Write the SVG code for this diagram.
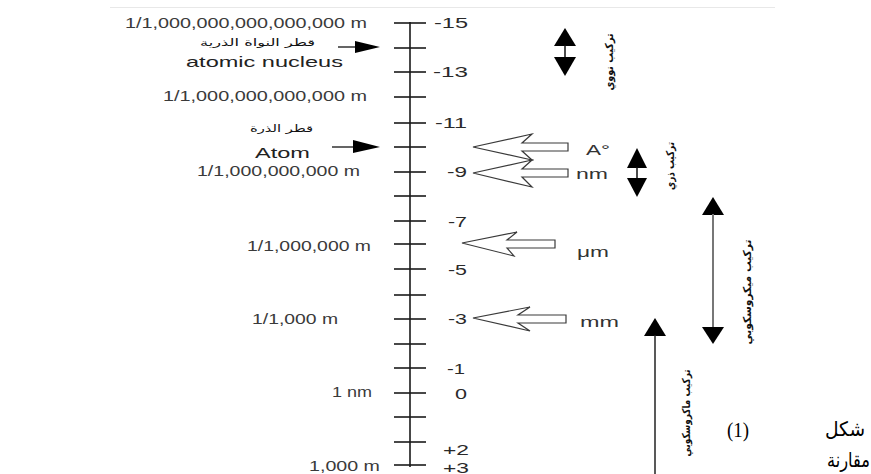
<svg xmlns="http://www.w3.org/2000/svg" width="871" height="474" viewBox="0 0 871 474">
  <defs>
    <style>
      .lbl { font-family: "Liberation Sans", Arial, sans-serif; font-size: 14px; fill: #3a3a3a; }
      .big { font-family: "Liberation Sans", Arial, sans-serif; font-size: 15px; fill: #222; }
      .num { font-family: "Liberation Sans", Arial, sans-serif; font-size: 15px; fill: #2a2a2a; }
      .unit { font-family: "Liberation Sans", Arial, sans-serif; font-size: 15px; fill: #333; }
      .ar { font-family: "DejaVu Sans", "Noto Sans", sans-serif; font-size: 10px; fill: #111; }
      .arv { font-family: "DejaVu Sans", "Noto Sans", sans-serif; font-size: 11px; font-weight: bold; fill: #111; text-anchor: middle; dominant-baseline: central; }
      .cap { font-family: "Liberation Serif", "DejaVu Sans", serif; font-size: 20px; fill: #000; }
      .tick { stroke: #1a1a1a; stroke-width: 1.6; }
      .hollow { fill: none; stroke: #3a3a3a; stroke-width: 1.2; stroke-linejoin: miter; }
      .solid { fill: #000; }
    </style>
  </defs>

  <rect width="871" height="474" fill="#fff"/>
  <!-- faint rule at the top of the figure -->
  <line x1="110" y1="7.5" x2="775" y2="7.5" stroke="#e8e8e8" stroke-width="1"/>

  <!-- the logarithmic scale: axis and ticks -->
  <g id="scale">
    <line class="tick" x1="410" y1="22" x2="410" y2="467"/>
    <line class="tick" x1="394" y1="23" x2="426" y2="23"/>
    <line class="tick" x1="394" y1="48" x2="426" y2="48"/>
    <line class="tick" x1="394" y1="72" x2="426" y2="72"/>
    <line class="tick" x1="394" y1="97" x2="426" y2="97"/>
    <line class="tick" x1="394" y1="123" x2="426" y2="123"/>
    <line class="tick" x1="394" y1="147" x2="426" y2="147"/>
    <line class="tick" x1="394" y1="172" x2="426" y2="172"/>
    <line class="tick" x1="394" y1="196" x2="426" y2="196"/>
    <line class="tick" x1="394" y1="221" x2="426" y2="221"/>
    <line class="tick" x1="394" y1="244" x2="426" y2="244"/>
    <line class="tick" x1="394" y1="269" x2="426" y2="269"/>
    <line class="tick" x1="394" y1="295" x2="426" y2="295"/>
    <line class="tick" x1="394" y1="319" x2="426" y2="319"/>
    <line class="tick" x1="394" y1="344" x2="426" y2="344"/>
    <line class="tick" x1="394" y1="368" x2="426" y2="368"/>
    <line class="tick" x1="394" y1="393" x2="426" y2="393"/>
    <line class="tick" x1="394" y1="417" x2="426" y2="417"/>
    <line class="tick" x1="394" y1="442" x2="426" y2="442"/>
    <line class="tick" x1="394" y1="465" x2="426" y2="465"/>
  </g>

  <!-- exponents -->
  <g id="exponents">
    <text class="num" x="434" y="28" textLength="34" lengthAdjust="spacingAndGlyphs">-15</text>
    <text class="num" x="433" y="77" textLength="35" lengthAdjust="spacingAndGlyphs">-13</text>
    <text class="num" x="435" y="128" textLength="32" lengthAdjust="spacingAndGlyphs">-11</text>
    <text class="num" x="447" y="177" textLength="20" lengthAdjust="spacingAndGlyphs">-9</text>
    <text class="num" x="448" y="227" textLength="19" lengthAdjust="spacingAndGlyphs">-7</text>
    <text class="num" x="448" y="275" textLength="19" lengthAdjust="spacingAndGlyphs">-5</text>
    <text class="num" x="448" y="324" textLength="19" lengthAdjust="spacingAndGlyphs">-3</text>
    <text class="num" x="447" y="374" textLength="18" lengthAdjust="spacingAndGlyphs">-1</text>
    <text class="num" x="455" y="399" textLength="12" lengthAdjust="spacingAndGlyphs">0</text>
    <text class="num" x="443" y="455" textLength="26" lengthAdjust="spacingAndGlyphs">+2</text>
    <text class="num" x="443" y="473" textLength="26" lengthAdjust="spacingAndGlyphs">+3</text>
  </g>

  <!-- metre values on the left -->
  <g id="metres">
    <text class="lbl" x="125" y="28" textLength="242" lengthAdjust="spacingAndGlyphs">1/1,000,000,000,000,000 m</text>
    <text class="lbl" x="163" y="101" textLength="204" lengthAdjust="spacingAndGlyphs">1/1,000,000,000,000 m</text>
    <text class="lbl" x="197" y="176" textLength="163" lengthAdjust="spacingAndGlyphs">1/1,000,000,000 m</text>
    <text class="lbl" x="247" y="251" textLength="124" lengthAdjust="spacingAndGlyphs">1/1,000,000 m</text>
    <text class="lbl" x="252" y="324" textLength="86" lengthAdjust="spacingAndGlyphs">1/1,000 m</text>
    <text class="lbl" x="332" y="397" textLength="40" lengthAdjust="spacingAndGlyphs">1 nm</text>
    <text class="lbl" x="309" y="471" textLength="71" lengthAdjust="spacingAndGlyphs">1,000 m</text>
  </g>

  <!-- nucleus diameter -->
  <g id="nucleus">
    <text class="ar" x="257.5" y="46" text-anchor="middle" textLength="115" lengthAdjust="spacingAndGlyphs">قطر النواة الذرية</text>
    <text class="big" x="186" y="67" textLength="157" lengthAdjust="spacingAndGlyphs">atomic nucleus</text>
  </g>

  <!-- atom diameter -->
  <g id="atom">
    <text class="ar" x="281.5" y="132" text-anchor="middle" textLength="63" lengthAdjust="spacingAndGlyphs">قطر الذرة</text>
    <text class="big" x="255" y="158" textLength="55" lengthAdjust="spacingAndGlyphs">Atom</text>
  </g>

  <!-- units -->
  <g id="unit-angstrom"><text class="unit" x="586" y="155" textLength="24" lengthAdjust="spacingAndGlyphs">A°</text></g>
  <g id="unit-nm"><text class="unit" x="576" y="179" textLength="32" lengthAdjust="spacingAndGlyphs">nm</text></g>
  <g id="unit-um"><text class="unit" x="577" y="257" textLength="32" lengthAdjust="spacingAndGlyphs">μm</text></g>
  <g id="unit-mm"><text class="unit" x="580" y="327" textLength="39" lengthAdjust="spacingAndGlyphs">mm</text></g>

  <!-- structure ranges, vertical labels reading downwards -->
  <g id="nuclear-structure">
    <text class="arv" transform="translate(609 62) rotate(-90)" textLength="57" lengthAdjust="spacingAndGlyphs">تركيب نووي</text>
  </g>
  <g id="atomic-structure">
    <text class="arv" transform="translate(670 166) rotate(-90)" textLength="48" lengthAdjust="spacingAndGlyphs">تركيب ذري</text>
  </g>
  <g id="microscopic-structure">
    <text class="arv" transform="translate(747 292) rotate(-90)" textLength="105" lengthAdjust="spacingAndGlyphs">تركيب ميكروسكوبي</text>
  </g>
  <g id="macroscopic-structure">
    <text class="arv" transform="translate(686 413) rotate(-90)" textLength="87" lengthAdjust="spacingAndGlyphs">تركيب ماكروسكوبي</text>
  </g>

  <!-- connectors -->
  <g id="connectors">
    <!-- pointers to the scale -->
    <line x1="338" y1="47" x2="357" y2="47" stroke="#111" stroke-width="1.3"/>
    <polygon class="solid" points="355,41 380,47 355,53"/>
    <line x1="332" y1="147" x2="355" y2="147" stroke="#111" stroke-width="1.3"/>
    <polygon class="solid" points="353,140 380,147 353,153"/>

    <!-- hollow unit arrows -->
    <path class="hollow" d="M473,147 L532,134 L522,143 L568,143 L568,151 L522,151 L532,160 Z"/>
    <path class="hollow" d="M473,173 L532,160 L522,169 L568,169 L568,177 L522,177 L532,187 Z"/>
    <path class="hollow" d="M462,243 L517,232 L507,240 L555,240 L555,248 L507,248 L514,256 Z"/>
    <path class="hollow" d="M473,318 L530,307 L518,315 L566,315 L566,323 L518,323 L530,331 Z"/>

    <!-- range arrows -->
    <polygon class="solid" points="565,28 576,46 554,46"/>
    <line x1="565" y1="45" x2="565" y2="58" stroke="#111" stroke-width="1.5"/>
    <polygon class="solid" points="554,57 576,57 565,76"/>

    <polygon class="solid" points="637,148 647,168 627,168"/>
    <line x1="637" y1="167" x2="637" y2="179" stroke="#111" stroke-width="1.5"/>
    <polygon class="solid" points="627,178 647,178 637,197"/>

    <polygon class="solid" points="713,197 724,215 702,215"/>
    <line x1="713" y1="214" x2="713" y2="328" stroke="#777" stroke-width="2"/>
    <polygon class="solid" points="702,327 724,327 713,344"/>

    <polygon class="solid" points="655,318 666,336 644,336"/>
    <line x1="655" y1="335" x2="655" y2="474" stroke="#222" stroke-width="1.5"/>
  </g>

  <!-- caption -->
  <g id="caption">
    <text class="cap" x="825" y="436" textLength="40" lengthAdjust="spacingAndGlyphs">شكل</text>
    <text class="cap" x="727" y="437" textLength="22" lengthAdjust="spacingAndGlyphs">(1)</text>
    <text class="cap" x="827" y="467" font-size="18" textLength="43" lengthAdjust="spacingAndGlyphs">مقارنة</text>
  </g>
</svg>
